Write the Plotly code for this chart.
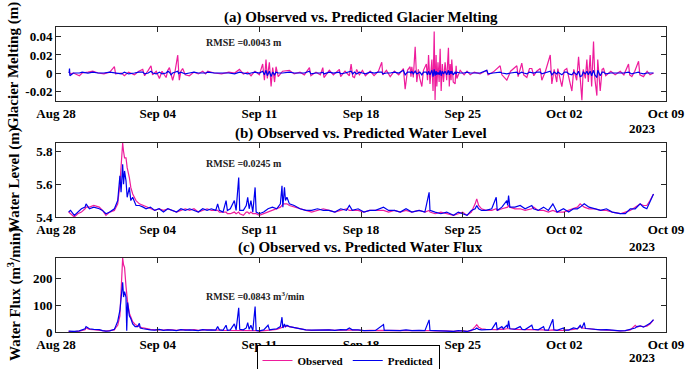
import pandas as pd
import plotly.graph_objects as go
from plotly.subplots import make_subplots

START = "2023-08-28"
END = "2023-10-09"

# ---------------- Panel (a): Glacier melting (m) ----------------
days_a = [0.90, 0.93, 0.96, 1.2, 1.61, 1.8, 2.2, 2.53, 2.9, 3.3,
          3.7, 4.02, 4.1, 4.5, 4.71, 5.0, 5.4, 5.7, 5.97, 6.1,
          6.35, 6.54, 6.65, 6.9, 7.12, 7.3, 7.58, 7.7, 7.81, 7.92,
          8.03, 8.2, 8.38, 8.45, 8.49, 8.6, 8.72, 8.9, 9.18, 9.5,
          9.8, 10.1, 10.3, 10.45, 10.9, 11.4, 11.9, 12.3, 12.63, 12.9,
          13.2, 13.43, 13.7, 14.0, 14.23, 14.35, 14.46, 14.55, 14.69, 14.81,
          14.92, 15.05, 15.15, 15.3, 15.6, 16.07, 16.4, 16.8, 17.1, 17.45,
          17.55, 17.9, 18.2, 18.37, 18.45, 18.82, 19.1, 19.51, 19.6, 19.9,
          20.2, 20.32, 20.43, 20.55, 20.7, 20.89, 21.1, 21.3, 21.63, 21.9,
          22.2, 22.43, 22.5, 22.75, 23.01, 23.3, 23.6, 23.92, 24.04, 24.2,
          24.38, 24.44, 24.5, 24.6, 24.73, 24.84, 24.95, 25.05, 25.19, 25.3,
          25.5, 25.58, 25.65, 25.75, 25.88, 25.96, 26.04, 26.1, 26.17, 26.22,
          26.3, 26.38, 26.45, 26.52, 26.6, 26.68, 26.79, 26.9, 27.02, 27.08,
          27.14, 27.2, 27.25, 27.35, 27.48, 27.55, 27.6, 27.83, 28.1, 28.3,
          28.52, 28.8, 29.2, 29.66, 29.75, 30.1, 30.58, 30.7, 31.04, 31.3,
          31.73, 31.82, 32.07, 32.2, 32.42, 32.6, 32.76, 32.9, 33.1, 33.34,
          33.45, 33.7, 34.03, 34.14, 34.3, 34.48, 34.55, 34.83, 35.0, 35.17,
          35.3, 35.52, 35.65, 35.85, 35.98, 36.09, 36.21, 36.3, 36.45, 36.55,
          36.65, 36.78, 36.88, 37.01, 37.1, 37.24, 37.3, 37.47, 37.6, 37.7,
          37.85, 38.2, 38.5, 38.85, 39.1, 39.42, 39.5, 39.65, 39.85, 40.11,
          40.2, 40.45, 40.7, 40.9, 41.14]
melt_obs = [0.000, 0.001, -0.001, 0.000, -0.003, 0.000, 0.001, 0.002, 0.000, -0.001,
            0.001, 0.007, -0.001, 0.000, -0.003, 0.001, -0.002, 0.002, 0.004, -0.003,
            0.003, 0.008, -0.002, 0.002, -0.006, 0.002, -0.005, 0.003, 0.006, -0.002,
            -0.008, 0.002, 0.020, 0.001, -0.008, 0.002, 0.005, -0.002, -0.003, 0.001,
            -0.001, 0.002, -0.001, 0.002, 0.000, -0.001, 0.001, 0.000, 0.004, -0.001,
            0.001, -0.003, 0.002, -0.002, 0.010, -0.008, 0.015, -0.006, 0.012, -0.015,
            0.006, -0.010, 0.007, -0.004, 0.002, 0.003, -0.001, 0.001, -0.002, 0.006,
            -0.003, 0.001, -0.002, 0.006, -0.005, 0.003, -0.002, 0.004, -0.004, 0.002,
            -0.003, 0.010, -0.004, -0.005, 0.004, -0.002, 0.003, -0.003, 0.002, -0.003,
            0.002, 0.012, -0.002, 0.003, -0.004, 0.002, -0.002, 0.005, -0.018, 0.003,
            0.007, -0.004, 0.007, -0.005, 0.029, -0.010, 0.004, -0.006, -0.015, 0.003,
            0.010, -0.008, 0.020, -0.012, 0.015, -0.020, 0.046, -0.030, 0.020, -0.015,
            0.012, -0.010, 0.027, -0.020, 0.010, -0.010, 0.012, -0.008, 0.028, -0.015,
            0.010, -0.008, 0.015, -0.010, -0.012, 0.008, -0.006, 0.003, -0.002, 0.002,
            -0.002, 0.001, -0.001, 0.003, -0.002, 0.001, 0.008, -0.002, -0.008, 0.002,
            0.008, -0.004, 0.011, -0.002, -0.005, 0.005, 0.005, -0.003, 0.002, 0.005,
            -0.008, 0.002, 0.020, -0.012, 0.004, -0.010, 0.005, -0.015, 0.003, 0.005,
            -0.004, -0.020, 0.004, -0.008, 0.018, -0.010, -0.030, 0.004, -0.006, 0.015,
            -0.010, 0.020, -0.015, 0.035, -0.006, -0.025, 0.015, -0.020, 0.004, 0.005,
            -0.003, 0.002, -0.002, 0.002, -0.002, 0.010, -0.002, -0.004, 0.002, 0.013,
            -0.002, -0.004, 0.002, -0.002, 0.000]
melt_pred = [0.000, 0.005, -0.003, 0.000, 0.000, 0.001, 0.000, 0.001, 0.000, 0.000,
             0.001, 0.000, 0.000, -0.001, 0.001, -0.001, 0.000, 0.001, 0.001, -0.001,
             0.000, 0.002, 0.000, -0.001, 0.001, -0.001, 0.000, 0.002, 0.001, -0.002,
             0.000, 0.001, 0.002, -0.001, 0.000, 0.001, 0.000, -0.001, 0.000, 0.001,
             0.000, 0.000, 0.000, 0.001, 0.000, 0.000, 0.000, -0.001, 0.001, 0.000,
             -0.001, 0.000, 0.001, 0.000, 0.002, -0.002, 0.003, -0.003, 0.002, -0.004,
             0.001, -0.002, 0.001, 0.000, 0.000, 0.001, 0.000, 0.000, 0.000, 0.002,
             -0.001, 0.000, 0.000, 0.001, -0.001, 0.001, 0.000, 0.001, -0.001, 0.000,
             0.001, 0.002, -0.001, 0.001, -0.001, 0.001, 0.000, -0.001, 0.001, 0.000,
             0.001, 0.001, -0.001, 0.000, 0.000, 0.001, 0.000, 0.003, -0.002, 0.001,
             0.001, 0.000, 0.002, -0.001, 0.002, -0.001, 0.000, 0.001, -0.002, 0.001,
             0.001, -0.002, 0.002, -0.002, 0.003, -0.004, 0.004, -0.003, 0.002, -0.002,
             0.001, -0.002, 0.003, -0.003, 0.002, -0.001, 0.002, -0.002, 0.003, -0.002,
             0.002, -0.001, 0.002, -0.002, 0.001, -0.001, 0.001, 0.000, 0.000, 0.001,
             0.000, 0.000, 0.000, 0.003, -0.001, 0.000, 0.001, 0.000, -0.001, 0.000,
             0.001, -0.001, 0.001, 0.000, -0.001, 0.001, 0.000, 0.000, 0.001, 0.001,
             -0.001, 0.000, 0.002, -0.002, 0.001, -0.001, 0.001, -0.002, 0.001, 0.001,
             -0.001, -0.002, 0.001, -0.002, 0.002, -0.004, -0.003, 0.001, -0.001, 0.002,
             -0.002, 0.002, -0.003, 0.003, -0.002, -0.005, 0.003, -0.003, 0.001, 0.001,
             -0.001, 0.000, 0.000, 0.000, 0.000, 0.001, 0.000, -0.001, 0.000, 0.001,
             0.000, -0.001, 0.000, 0.000, 0.000]

# ---------------- Panel (b): Water level (m) ----------------
days_b = [0.87, 1.0, 1.26, 1.5, 1.75, 2.0, 2.07, 2.3, 2.6, 2.98,
          3.2, 3.44, 3.7, 4.02, 4.25, 4.40, 4.48, 4.59, 4.65, 4.72,
          4.82, 4.9, 5.05, 5.15, 5.28, 5.51, 5.74, 6.0, 6.2, 6.5,
          6.8, 7.1, 7.4, 7.7, 8.0, 8.3, 8.6, 8.9, 9.2, 9.5,
          9.8, 10.1, 10.4, 10.7, 11.0, 11.13, 11.25, 11.5, 11.71, 11.8,
          12.0, 12.28, 12.4, 12.58, 12.65, 12.9, 13.1, 13.2, 13.3, 13.42,
          13.55, 13.71, 13.78, 14.0, 14.3, 14.6, 14.9, 15.2, 15.45, 15.56,
          15.62, 15.73, 15.8, 15.9, 16.07, 16.4, 16.8, 17.2, 17.6, 18.0,
          18.4, 18.8, 19.2, 19.6, 20.0, 20.2, 20.4, 20.8, 21.2, 21.6,
          22.0, 22.55, 22.9, 23.3, 23.7, 24.1, 24.5, 25.0, 25.4, 25.69,
          25.75, 26.1, 26.5, 26.9, 27.37, 27.7, 28.0, 28.3, 28.6, 28.86,
          28.97, 29.1, 29.3, 29.6, 30.0, 30.31, 30.38, 30.7, 31.04, 31.1,
          31.16, 31.25, 31.6, 31.96, 32.3, 32.76, 32.88, 33.2, 33.57, 33.9,
          34.21, 34.5, 34.94, 35.3, 35.63, 35.9, 36.09, 36.37, 36.7, 37.1,
          37.5, 37.9, 38.3, 38.85, 39.2, 39.54, 39.88, 40.22, 40.45, 40.68,
          40.9, 41.14]
level_obs = [5.43, 5.42, 5.40, 5.42, 5.43, 5.45, 5.46, 5.46, 5.47, 5.46,
             5.44, 5.41, 5.43, 5.44, 5.48, 5.60, 5.72, 5.85, 5.80, 5.76,
             5.76, 5.70, 5.64, 5.58, 5.54, 5.50, 5.48, 5.47, 5.46, 5.45,
             5.44, 5.45, 5.44, 5.45, 5.44, 5.43, 5.44, 5.45, 5.44, 5.45,
             5.43, 5.44, 5.45, 5.44, 5.44, 5.44, 5.43, 5.43, 5.43, 5.42,
             5.42, 5.43, 5.42, 5.43, 5.42, 5.41, 5.43, 5.43, 5.42, 5.43,
             5.42, 5.42, 5.42, 5.41, 5.42, 5.43, 5.44, 5.45, 5.46, 5.47,
             5.48, 5.48, 5.48, 5.48, 5.47, 5.46, 5.45, 5.44, 5.43, 5.44,
             5.45, 5.44, 5.43, 5.44, 5.45, 5.44, 5.44, 5.44, 5.43, 5.44,
             5.44, 5.44, 5.43, 5.44, 5.43, 5.44, 5.43, 5.44, 5.43, 5.44,
             5.43, 5.42, 5.43, 5.42, 5.41, 5.42, 5.43, 5.41, 5.43, 5.48,
             5.51, 5.47, 5.45, 5.44, 5.44, 5.45, 5.44, 5.45, 5.46, 5.46,
             5.47, 5.46, 5.45, 5.45, 5.44, 5.45, 5.46, 5.44, 5.44, 5.43,
             5.44, 5.43, 5.43, 5.44, 5.45, 5.46, 5.48, 5.46, 5.45, 5.45,
             5.44, 5.44, 5.43, 5.42, 5.43, 5.44, 5.46, 5.48, 5.47, 5.47,
             5.50, 5.54]
level_pred = [5.43, 5.44, 5.41, 5.43, 5.45, 5.46, 5.48, 5.45, 5.46, 5.45,
              5.44, 5.42, 5.43, 5.45, 5.50, 5.65, 5.55, 5.72, 5.60, 5.68,
              5.62, 5.52, 5.58, 5.50, 5.52, 5.47, 5.47, 5.46, 5.45, 5.46,
              5.44, 5.45, 5.43, 5.45, 5.44, 5.43, 5.45, 5.44, 5.45, 5.44,
              5.43, 5.45, 5.44, 5.45, 5.44, 5.48, 5.44, 5.43, 5.50, 5.44,
              5.45, 5.50, 5.44, 5.64, 5.44, 5.44, 5.47, 5.52, 5.45, 5.50,
              5.43, 5.58, 5.43, 5.42, 5.43, 5.45, 5.46, 5.45, 5.48, 5.59,
              5.46, 5.58, 5.50, 5.52, 5.48, 5.47, 5.45, 5.44, 5.44, 5.45,
              5.44, 5.44, 5.43, 5.45, 5.44, 5.47, 5.44, 5.45, 5.43, 5.44,
              5.44, 5.46, 5.44, 5.44, 5.43, 5.45, 5.43, 5.44, 5.43, 5.55,
              5.44, 5.43, 5.42, 5.43, 5.41, 5.43, 5.42, 5.41, 5.44, 5.45,
              5.47, 5.45, 5.44, 5.44, 5.45, 5.52, 5.44, 5.46, 5.50, 5.47,
              5.53, 5.46, 5.46, 5.47, 5.45, 5.47, 5.45, 5.44, 5.46, 5.44,
              5.48, 5.43, 5.45, 5.43, 5.45, 5.45, 5.46, 5.48, 5.46, 5.45,
              5.44, 5.45, 5.43, 5.42, 5.42, 5.45, 5.45, 5.48, 5.46, 5.45,
              5.49, 5.54]

# ---------------- Panel (c): Water flux (m3/min) ----------------
days_c = [0.87, 1.26, 1.6, 2.0, 2.07, 2.3, 2.6, 2.98, 3.2, 3.44,
          3.7, 4.02, 4.1, 4.25, 4.40, 4.48, 4.59, 4.65, 4.72, 4.82,
          4.87, 4.93, 5.05, 5.15, 5.28, 5.45, 5.62, 5.74, 5.8, 6.0,
          6.2, 6.5, 6.8, 7.1, 7.4, 7.7, 8.0, 8.3, 8.6, 8.9,
          9.2, 9.5, 9.8, 10.1, 10.4, 10.7, 11.0, 11.13, 11.25, 11.5,
          11.71, 11.8, 12.0, 12.28, 12.4, 12.58, 12.65, 12.9, 13.1, 13.2,
          13.3, 13.42, 13.55, 13.71, 13.78, 14.0, 14.3, 14.6, 14.7, 14.9,
          15.2, 15.45, 15.56, 15.62, 15.73, 15.8, 15.9, 16.07, 16.4, 16.8,
          17.2, 17.6, 18.0, 18.4, 18.8, 19.2, 19.6, 20.0, 20.2, 20.4,
          20.8, 21.2, 21.6, 22.0, 22.55, 22.6, 22.9, 23.3, 23.7, 24.1,
          24.5, 25.0, 25.4, 25.69, 25.75, 26.1, 26.5, 26.9, 27.37, 27.7,
          28.0, 28.3, 28.6, 28.86, 28.97, 29.1, 29.3, 29.6, 30.0, 30.31,
          30.38, 30.7, 30.8, 31.04, 31.1, 31.16, 31.25, 31.6, 31.96, 32.1,
          32.3, 32.76, 32.85, 33.2, 33.57, 33.65, 33.9, 34.21, 34.28, 34.5,
          34.94, 35.0, 35.3, 35.63, 35.9, 36.09, 36.2, 36.37, 36.45, 36.7,
          37.1, 37.5, 37.9, 38.3, 38.85, 39.2, 39.54, 39.88, 40.0, 40.22,
          40.45, 40.68, 40.9, 41.14]
flux_obs = [2, 1, 3, 8, 15, 10, 9, 8, 5, 3,
            4, 8, 15, 25, 60, 150, 275, 250, 240, 170,
            140, 110, 70, 55, 38, 28, 22, 20, 18, 15,
            12, 10, 8, 9, 7, 9, 8, 6, 8, 9,
            7, 9, 6, 8, 9, 7, 8, 8, 7, 6,
            6, 5, 6, 6, 5, 6, 5, 4, 6, 6,
            5, 6, 5, 5, 5, 3, 4, 6, 6, 8,
            10, 15, 18, 20, 22, 22, 22, 20, 15, 10,
            8, 6, 7, 9, 8, 6, 7, 9, 8, 8,
            7, 5, 6, 6, 6, 6, 5, 6, 5, 7,
            5, 6, 5, 6, 5, 4, 5, 4, 2, 4,
            5, 2, 5, 20, 27, 18, 12, 10, 9, 10,
            9, 11, 10, 12, 12, 14, 12, 10, 10, 9,
            8, 9, 10, 8, 8, 7, 6, 8, 7, 6,
            6, 6, 8, 10, 12, 20, 15, 14, 14, 12,
            10, 8, 8, 6, 4, 5, 8, 25, 18, 22,
            20, 22, 30, 45]
flux_pred = [3, 2, 4, 12, 20, 12, 10, 9, 5, 3,
             4, 10, 20, 40, 80, 140, 185, 130, 150, 130,
             5, 110, 60, 50, 30, 20, 20, 32, 15, 12,
             10, 8, 7, 10, 6, 8, 7, 5, 9, 7,
             8, 7, 5, 9, 7, 8, 7, 20, 8, 6,
             25, 6, 8, 30, 8, 90, 10, 8, 15, 35,
             10, 25, 5, 95, 6, 4, 8, 25, 8, 10,
             12, 20, 55, 15, 30, 20, 25, 20, 16, 10,
             8, 7, 8, 7, 8, 6, 9, 8, 15, 8,
             8, 5, 6, 6, 28, 6, 6, 6, 5, 8,
             5, 6, 5, 45, 6, 5, 4, 5, 2, 5,
             4, 2, 7, 10, 15, 10, 8, 9, 10, 36,
             9, 20, 12, 25, 15, 42, 12, 11, 20, 10,
             9, 25, 10, 8, 20, 8, 7, 47, 8, 6,
             15, 7, 7, 15, 12, 25, 14, 35, 13, 12,
             10, 8, 9, 6, 4, 5, 10, 15, 20, 23,
             18, 24, 32, 46]

# ---------------- Axis ticks / labels ----------------
x_tick_dates = ["2023-08-28", "2023-09-04", "2023-09-11", "2023-09-18",
                "2023-09-25", "2023-10-02", "2023-10-09"]
x_tick_labels = ["Aug 28", "Sep 04", "Sep 11", "Sep 18", "Sep 25", "Oct 02", "Oct 09"]
ya_vals = [-0.02, 0, 0.02, 0.04]
ya_text = ["-0.02", "0", "0.02", "0.04"]
yb_vals = [5.4, 5.6, 5.8]
yb_text = ["5.4", "5.6", "5.8"]
yc_vals = [0, 100, 200]
yc_text = ["0", "100", "200"]

titles = ["(a) Observed vs. Predicted Glacier Melting",
          "(b) Observed vs. Predicted Water Level",
          "(c) Observed vs. Predicted Water Flux"]
ylabels = ["Glacier Melting (m)", "Water Level (m)",
           "Water Flux (m<sup>3</sup>/min)"]
rmse_text = ["RMSE =0.0043 m", "RMSE =0.0245 m", "RMSE =0.0843 m<sup>3</sup>/min"]
series_names = ["Observed", "Predicted"]

OBS_COLOR = "#EE1C9C"
PRED_COLOR = "#0000EE"
FONT = "Liberation Serif"
W, H = 685, 369


def bold(s):
    return f"<b>{s}</b>"


def to_dates(days):
    return pd.Timestamp(START) + pd.to_timedelta(days, unit="D")


fig = make_subplots(rows=3, cols=1)

panels = [
    (days_a, melt_obs, melt_pred),
    (days_b, level_obs, level_pred),
    (days_c, flux_obs, flux_pred),
]
for i, (d, obs, pred) in enumerate(panels, start=1):
    x = to_dates(d)
    fig.add_trace(go.Scatter(x=x, y=obs, mode="lines", name=bold(series_names[0]),
                             line=dict(color=OBS_COLOR, width=1.2),
                             showlegend=(i == 1), legendgroup="obs"), row=i, col=1)
    fig.add_trace(go.Scatter(x=x, y=pred, mode="lines", name=bold(series_names[1]),
                             line=dict(color=PRED_COLOR, width=1.2),
                             showlegend=(i == 1), legendgroup="pred"), row=i, col=1)

# pixel layout -> paper domains
x0, x1 = 56, 666
panel_px = [(27, 101), (143, 217), (258, 332)]
y_ranges = [[-0.031, 0.051], [5.4, 5.85], [0, 275]]
y_ticks = [(ya_vals, ya_text), (yb_vals, yb_text), (yc_vals, yc_text)]

tick_font = dict(family=FONT, size=13, color="black")
axis_common = dict(showline=True, linecolor="#262626", linewidth=1, mirror="ticks",
                   ticks="inside", ticklen=5, tickcolor="#262626", automargin=False,
                   showgrid=False, zeroline=False, tickfont=tick_font)

for i, ((top, bot), yr, (tv, tt)) in enumerate(zip(panel_px, y_ranges, y_ticks), start=1):
    xa = "xaxis" if i == 1 else f"xaxis{i}"
    ya = "yaxis" if i == 1 else f"yaxis{i}"
    fig.update_layout({
        xa: dict(domain=[x0 / W, x1 / W], type="date", range=[START, END],
                 tickvals=x_tick_dates, ticktext=[bold(t) for t in x_tick_labels],
                 ticklabeloverflow="allow", **axis_common),
        ya: dict(domain=[1 - bot / H, 1 - top / H], range=yr,
                 tickvals=tv, ticktext=[bold(t) for t in tt], **axis_common),
    })

annotations = []
title_y = [17, 133, 247]
rmse_y = [43, 163, 296]
year_y = [128, 246, 357]
ylabel_y = [66, 180, 295]
for k in range(3):
    annotations.append(dict(text=bold(titles[k]), x=(x0 + x1) / 2 / W, y=1 - title_y[k] / H,
                            xref="paper", yref="paper", showarrow=False,
                            xanchor="center", yanchor="middle",
                            font=dict(family=FONT, size=15, color="black")))
    annotations.append(dict(text=bold(rmse_text[k]), x=204 / W, y=1 - rmse_y[k] / H,
                            xref="paper", yref="paper", showarrow=False,
                            xanchor="left", yanchor="middle",
                            font=dict(family=FONT, size=10, color="#222222")))
    annotations.append(dict(text=bold("2023"), x=642 / W, y=1 - year_y[k] / H,
                            xref="paper", yref="paper", showarrow=False,
                            xanchor="center", yanchor="middle",
                            font=dict(family=FONT, size=13, color="black")))
    annotations.append(dict(text=bold(ylabels[k]), x=14 / W, y=1 - ylabel_y[k] / H,
                            xref="paper", yref="paper", showarrow=False, textangle=-90,
                            xanchor="center", yanchor="middle",
                            font=dict(family=FONT, size=15, color="black")))

fig.update_layout(
    width=W, height=H,
    margin=dict(l=0, r=0, t=0, b=0, pad=0, autoexpand=False),
    paper_bgcolor="white", plot_bgcolor="white",
    annotations=annotations,
    showlegend=True,
    legend=dict(orientation="h", x=348 / W, xanchor="center", y=1 - 345 / H, yanchor="top",
                bordercolor="black", borderwidth=1, bgcolor="white",
                itemwidth=30, tracegroupgap=0, traceorder="normal",
                font=dict(family=FONT, size=11, color="black")),
)

fig.write_html("out.html",
               config={"displayModeBar": False},
               post_script="document.body.style.margin='0px';document.body.style.overflow='hidden';")
